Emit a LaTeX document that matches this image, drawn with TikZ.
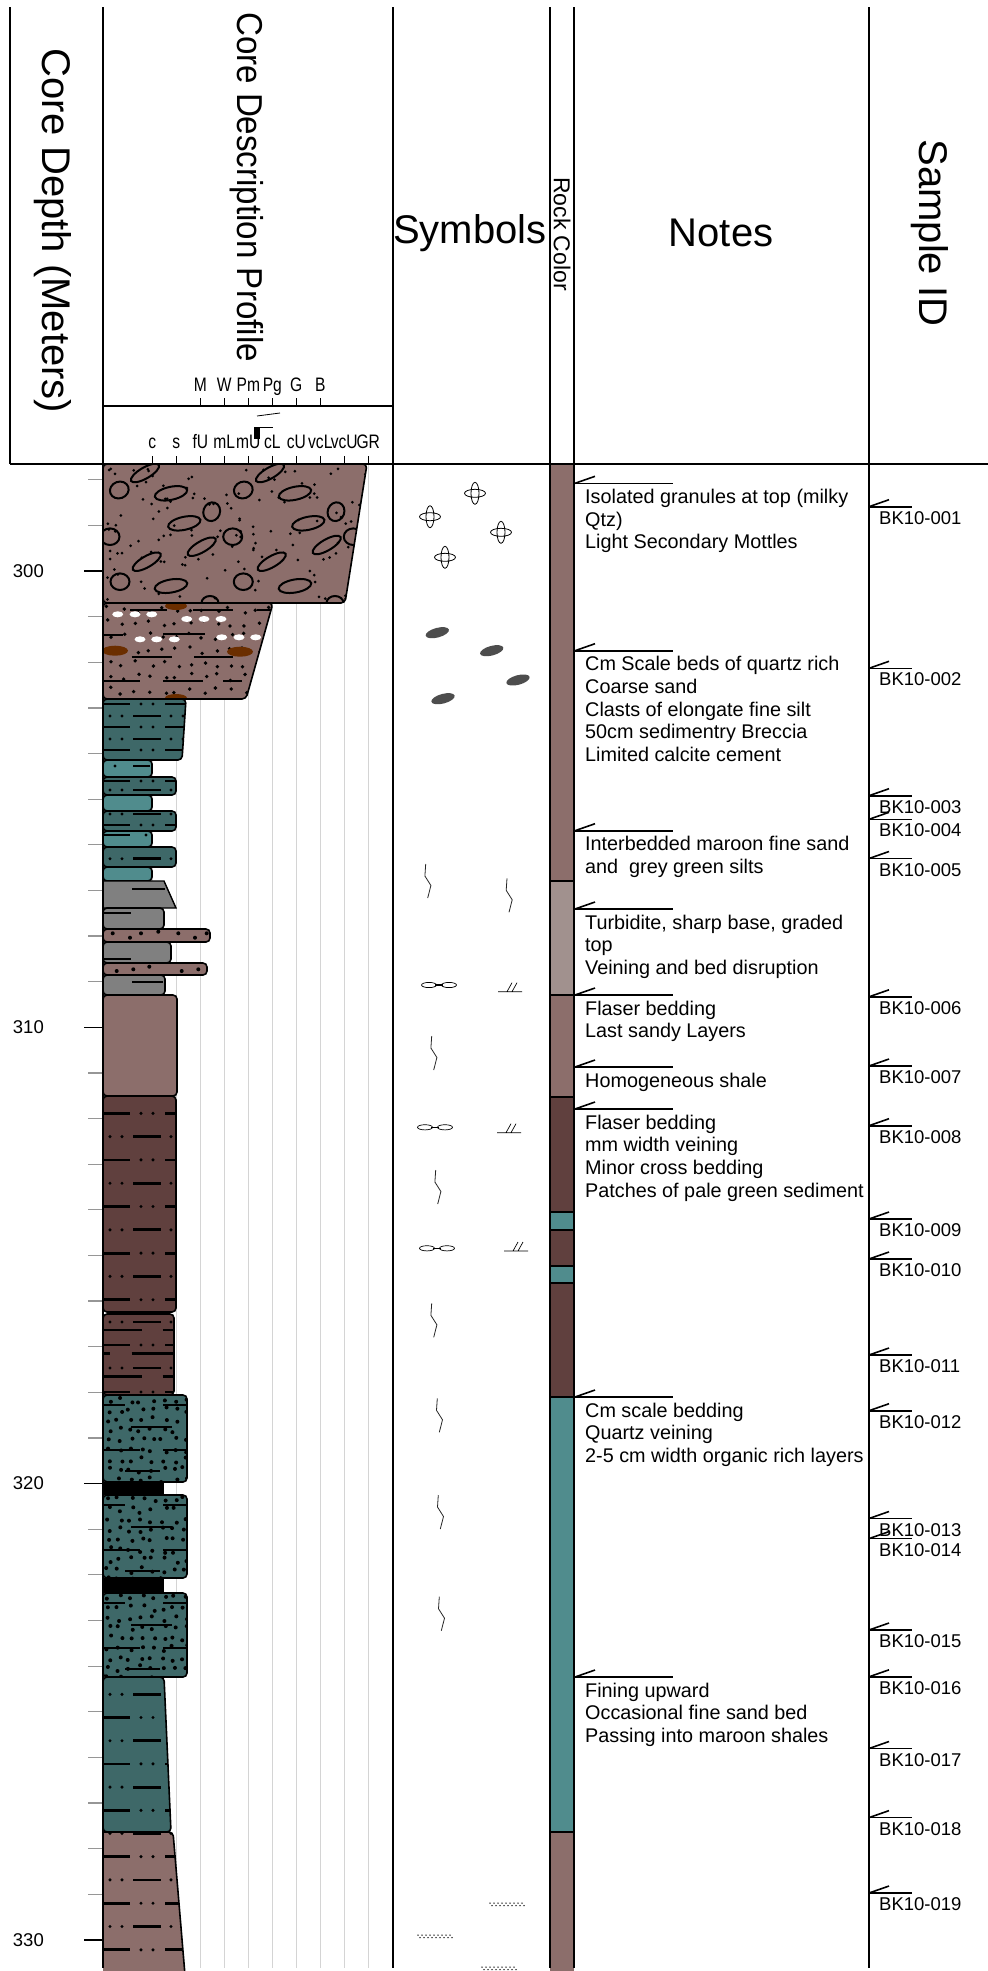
\documentclass[tikz,border=0pt]{standalone}
\usepackage{fontspec}
\setmainfont{Liberation Sans}
\definecolor{rosebrown}{RGB}{140,110,107}
\definecolor{darkmaroon}{RGB}{96,64,62}
\definecolor{darkteal}{RGB}{62,104,104}
\definecolor{paleteal}{RGB}{80,140,141}
\definecolor{turbgrey}{RGB}{161,145,142}
\definecolor{bedgrey}{RGB}{128,128,128}
\definecolor{mudbrown}{RGB}{107,46,0}
\definecolor{gridgrey}{RGB}{212,212,212}
\definecolor{clastgrey}{RGB}{77,77,77}
\definecolor{tickgrey}{RGB}{150,150,150}

\tikzset{
  frame/.style={line width=1.8pt, black},
  thinframe/.style={line width=1.2pt, black},
  gridline/.style={line width=1.2pt, gridgrey},
  bedline/.style={line width=1.6pt, black, rounded corners=4pt},
  siltdash/.style={line width=2.8pt, black},
  headfont/.style={font=\fontsize{40}{44}\selectfont},
  notefont/.style={font=\fontsize{19.8}{22.7}\selectfont, inner sep=0pt},
  idfont/.style={font=\fontsize{18.5}{22}\selectfont, inner sep=0pt},
  scalefont/.style={font=\fontsize{19.5}{22}\selectfont, inner sep=0pt},
  marker/.style={line width=1.6pt, black},
  symline/.style={line width=0.8pt, black!85},
}

% one row of the silt ornament: #1 = y, #2 = 0 dash first, 1 dots first
\newcommand\siltrow[2]{%
  \foreach \k in {0,...,5}{%
    \pgfmathsetmacro\xa{104+61*\k}%
    \ifnum#2=0
      \draw[siltdash] (\xa,#1) -- ++(26,0);
      \fill (\xa+37,#1) circle (1.7);
      \fill (\xa+49,#1) circle (1.7);
    \else
      \fill (\xa+6,#1) circle (1.7);
      \fill (\xa+18,#1) circle (1.7);
      \draw[siltdash] (\xa+29,#1) -- ++(28,0);
    \fi
  }}

% outline of a bed: top, bottom, right edge at top, right edge at bottom
\newcommand\bedpath[4]{(103,#1) -- (#3,#1) -- (#4,#2) -- (103,#2) -- cycle}

% a bed with fill #5 and ornament #6
\newcommand\drawbed[6]{%
  \begin{scope}
    \clip[rounded corners=4pt] \bedpath{#1}{#2}{#3}{#4};
    \fill[#5] (100,#1) rectangle (400,#2);
    #6
  \end{scope}
  \draw[bedline] \bedpath{#1}{#2}{#3}{#4};
}

% sandstone ornament between #1 and #2
\newcommand\sandorn[2]{%
  \foreach \i in {0,...,7}{\foreach \j in {0,...,8}{%
    \fill ({105+11*\i+7*rnd},{#1+2+10*\j+6*rnd}) circle (2);}}
  \draw[line width=1.9pt] (103,#1+10) -- (125,#1+10) (163,#1+10) -- (190,#1+10);
  \draw[line width=1.9pt] (131,#1+32) -- (172,#1+32);
  \draw[line width=1.9pt] (103,#1+55) -- (140,#1+55) (163,#1+55) -- (190,#1+55);
  \draw[line width=1.9pt] (125,#1+76) -- (160,#1+76);
}

% vein symbol
\newcommand\vein[2]{\draw[symline] (#1,#2) -- ++(-0.8,12) -- ++(6,9.5) -- ++(-3.2,12.5);}
% flaser symbol
\newcommand\flaser[2]{\draw[line width=0.7pt] (#1-10,#2) ellipse [x radius=7.5, y radius=2.6] (#1+10,#2) ellipse [x radius=7.5, y radius=2.6];
  \draw[line width=1.2pt] (#1-4,#2) -- (#1+4,#2);}
% cross bedding symbol
\newcommand\xbed[2]{\draw[line width=0.7pt] (#1,#2) -- ++(24,0) (#1+9,#2) -- ++(5,-9) (#1+14,#2) -- ++(5,-9);}
% band of fine dots
\newcommand\dotband[2]{\foreach \k in {0,...,8}{\fill (#1+4*\k,#2) circle (0.75); \fill (#1+2+4*\k,#2+2.6) circle (0.75);}}

% a note with its marker
\newcommand\logentry[3]{%
  \draw[marker] (574,#2) -- (673,#2);
  \draw[marker] (575,#2) -- (595,#2-7);
  \foreach \t [count=\i from 0] in {#3}{%
    \node[notefont, anchor=base west] (#1-\i) at (585,{#2+20+22.7*\i}) {\t};}}

% a sample with its marker
\newcommand\sampleid[2]{%
  \draw[marker] (869,#1) -- (912,#1);
  \draw[marker] (869,#1) -- (889,#1-7);
  \node[idfont, anchor=base west] (s#2) at (879,#1+17.5) {BK10-#2};}

\begin{document}
\begin{tikzpicture}[x=1pt,y=-1pt]
\useasboundingbox (0,0) rectangle (988,1971);
\fill[white] (0,0) rectangle (988,1971);

% grain-size grid
\foreach \gi in {0,...,9}{\pgfmathsetmacro\gx{152.3+24*\gi}
  \draw[gridline] (\gx,464) -- (\gx,1968);
  \draw[line width=0.9pt] (\gx,456) -- (\gx,464);}
\foreach \gi in {2,...,7}{\pgfmathsetmacro\gx{152.3+24*\gi}
  \draw[line width=0.9pt] (\gx,398) -- (\gx,406);}

% depth ticks
\foreach \d in {298,...,330}{\pgfmathsetmacro\yy{571+45.63*(\d-300)}
  \draw[tickgrey, line width=1.2pt] (88,\yy) -- (103,\yy);}
\foreach \d in {300,310,320,330}{\pgfmathsetmacro\yy{571+45.63*(\d-300)}
  \draw[line width=1.2pt] (84,\yy) -- (103,\yy);
  \node[font=\fontsize{18.5}{20}\selectfont, anchor=east, inner sep=0pt] (d\d) at (44,\yy) {\d};}

% ---- beds of the profile ----
% breccia
\drawbed{464}{603}{367}{345}{rosebrown}{%
  \pgfmathsetseed{11}
  \foreach \n in {1,...,130}{\fill ({106+262*rnd},{468+132*rnd}) circle (1.5);}
  \foreach \cx/\cy/\rx/\ry/\ang in {145/473/16/5.5/30, 270/473/16/5.5/30, 201.7/546.7/16/5.5/30,
      326.7/545/16/5.5/30, 146.7/561.7/16/5.5/30, 271.7/561.7/16/5.5/30,
      171/493.3/16.5/6.5/12, 295/493.3/16.5/6.5/12, 184.3/523.3/16.5/6.5/12, 308.3/523.3/16.5/6.5/12,
      171/586/16.5/6.5/10, 295/586/16.5/6.5/10,
      119.3/490/9.5/8.3/20, 243.3/490/9.5/8.3/20, 211.7/511.7/8.3/9.5/-20, 336/511.7/8.3/9.5/-20,
      110/536.7/9.5/8.3/0, 232.7/536.7/9.5/8.3/0, 353.3/536.7/9.5/8.3/0, 120/581.7/9.5/8.3/0,
      243.3/581.7/9.5/8.3/0, 210/603/8.5/7/0, 335/603/8.5/7/0}{%
    \draw[line width=2pt, shift={(\cx,\cy)}, rotate=\ang] (0,0) ellipse [x radius=\rx, y radius=\ry];}
}
% coarse quartz sand
\drawbed{603}{699}{273}{246}{rosebrown}{%
  \pgfmathsetseed{5}
  \foreach \i in {0,...,12}{\foreach \j in {0,...,6}{\fill ({106+13.5*\i+7*rnd},{606+13.5*\j+7*rnd}) circle (1.9);}}
  \foreach \cx/\cy in {117.7/614.3, 135/614.3, 151.7/614.3, 186.7/619, 204/619, 221/619,
      140/639.3, 156.7/639.3, 174.3/639.3, 221.7/637.3, 239/637.3, 255.7/637.3}{%
    \fill[white] (\cx,\cy) ellipse [x radius=5.5, y radius=3];}
  \fill[mudbrown] (176,606) ellipse [x radius=11, y radius=4];
  \fill[mudbrown] (115,650.7) ellipse [x radius=13, y radius=5];
  \fill[mudbrown] (240,651.7) ellipse [x radius=13, y radius=5];
  \fill[mudbrown] (176,698) ellipse [x radius=11, y radius=4];
  \draw[line width=2.2pt] (130,610) -- (166.7,610) (193.3,610) -- (233.3,610) (256.7,610) -- (271.7,610)
    (104,635) -- (123.3,635) (163.3,634.3) -- (205,634.3)
    (131.7,657.3) -- (171.7,657.3) (194,657.3) -- (233.3,657.3)
    (104,680.7) -- (140,680.7) (163,680.7) -- (203,680.7) (223,680.7) -- (241.7,680.7);
}
% grey-green silts interbedded
\drawbed{699}{760}{186}{182}{darkteal}{\siltrow{704}{0}\siltrow{716}{1}\siltrow{727}{0}\siltrow{739}{1}\siltrow{750}{0}}
\drawbed{760}{777}{152}{152}{paleteal}{\draw[siltdash] (133,766) -- (150,766); \fill (115,766) circle (1.7);}
\drawbed{777}{795}{176}{176}{darkteal}{\siltrow{781}{0}\siltrow{790}{1}}
\drawbed{795}{811}{152}{152}{paleteal}{}
\drawbed{811}{831}{176}{176}{darkteal}{\siltrow{814}{1}\siltrow{825}{0}}
\drawbed{831}{847}{152}{152}{paleteal}{\draw[siltdash] (104,835) -- (130,835); \fill (146,835) circle (1.7);}
\drawbed{847}{867}{176}{176}{darkteal}{\siltrow{858.7}{1}}
\drawbed{867}{881}{152}{152}{paleteal}{}
% turbidite
\fill[bedgrey] (103,881) -- (164,881) -- (176,908) -- (103,908) -- cycle;
\draw[line width=1.4pt] (103,881) -- (164,881) -- (176,908) -- (103,908);
\draw[line width=2pt] (132,889) -- (165,889);
\drawbed{908}{929}{164}{164}{bedgrey}{\draw[line width=2pt] (104,912.7) -- (131,912.7);}
\drawbed{929}{942}{210}{210}{rosebrown}{%
  \foreach \cx/\cy in {112.7/933.3, 130/937.7, 141/933.3, 158.3/931.7, 178.3/933.3, 195/937.7, 206.7/933.3}{\fill (\cx,\cy) circle (2);}}
\drawbed{942}{963}{171}{171}{bedgrey}{\draw[line width=2pt] (104,959.3) -- (131,959.3);}
\drawbed{963}{975}{207}{207}{rosebrown}{%
  \foreach \cx/\cy in {116.7/971, 133.3/969.3, 149.3/966.7, 181.7/971, 198.3/969.3}{\fill (\cx,\cy) circle (2);}}
\drawbed{975}{995}{165}{165}{bedgrey}{\draw[line width=2pt] (132,982.3) -- (163,982.3);}
% homogeneous shale
\drawbed{995}{1096}{177}{177}{rosebrown}{}
% maroon silts
\drawbed{1096}{1312}{176}{176}{darkmaroon}{%
  \foreach \r in {0,...,8}{\pgfmathsetmacro\ry{1113.3+23.3*\r}\pgfmathtruncatemacro\rt{mod(\r,2)}\siltrow{\ry}{\rt}}}
\drawbed{1314}{1395}{174}{174}{darkmaroon}{%
  \siltrow{1322}{1}\siltrow{1345}{0}\siltrow{1368}{1}\siltrow{1392}{0}
  \draw[siltdash] (104,1330) -- (141.7,1330) (162.7,1330) -- (172.7,1330);
  \draw[siltdash] (104,1353.3) -- (110,1353.3) (131.7,1353.3) -- (172.7,1353.3);
  \draw[siltdash] (104,1376.7) -- (141.7,1376.7) (162.7,1376.7) -- (172.7,1376.7);}
% sandstones with organic layers
\pgfmathsetseed{21}
\drawbed{1395}{1482}{187}{187}{darkteal}{\sandorn{1395}{1482}}
\fill (103,1482) rectangle (164,1495);
\drawbed{1495}{1578}{187}{187}{darkteal}{\sandorn{1495}{1578}}
\fill (103,1578) rectangle (164,1593);
\drawbed{1593}{1677}{187}{187}{darkteal}{\sandorn{1593}{1677}}
% fining upward silts
\drawbed{1677}{1832}{164}{171}{darkteal}{%
  \foreach \r in {0,...,5}{\pgfmathsetmacro\ry{1694.3+23.2*\r}\pgfmathtruncatemacro\rt{1-mod(\r,2)}\siltrow{\ry}{\rt}}}
\begin{scope}
  \clip[rounded corners=4pt] (103,1832) -- (173,1832) -- (185,1975) -- (103,1975) -- cycle;
  \fill[rosebrown] (100,1832) rectangle (400,1975);
  \foreach \r in {0,...,5}{\pgfmathsetmacro\ry{1833.3+23.3*\r}\pgfmathtruncatemacro\rt{1-mod(\r,2)}\siltrow{\ry}{\rt}}
\end{scope}
\draw[bedline] (103,1832) -- (173,1832) -- (185,1975);

% ---- symbols ----
\foreach \cx/\cy in {475/493.3, 430/516.7, 501/532.3, 445/557.3}{%
  \draw[line width=0.8pt] (\cx,\cy) ellipse [x radius=4, y radius=11] (\cx,\cy) ellipse [x radius=10.5, y radius=4];}
\foreach \cx/\cy in {437.3/632.7, 491.7/650.7, 518/680, 443/698.7}{%
  \fill[clastgrey, rotate around={15:(\cx,\cy)}] (\cx,\cy) ellipse [x radius=12, y radius=4.8];}
\vein{425.7}{864} \vein{507}{878.3} \vein{431.7}{1036} \vein{435.7}{1170}
\vein{431.7}{1303.3} \vein{437.3}{1398.3} \vein{438.3}{1495} \vein{439.3}{1596.7}
\flaser{439}{985} \flaser{435}{1127.3} \flaser{437}{1248.3}
\xbed{498}{991.7} \xbed{497}{1132.7} \xbed{504}{1251}
\dotband{490}{1903} \dotband{418}{1935} \dotband{482}{1967}

% ---- rock colour column ----
\foreach \ya/\yb/\cc in {464/881/rosebrown, 881/995/turbgrey, 995/1097/rosebrown, 1097/1212/darkmaroon,
    1212/1230/paleteal, 1230/1266/darkmaroon, 1266/1283/paleteal, 1283/1397/darkmaroon,
    1397/1832/paleteal, 1832/1971/rosebrown}{\fill[\cc] (550,\ya) rectangle (574,\yb);}
\foreach \yy in {881,995,1097,1212,1230,1266,1283,1397,1832}{\draw[line width=2.4pt] (550,\yy) -- (574,\yy);}

% ---- frame ----
\draw[frame] (10,7) -- (10,464);
\draw[thinframe] (103,7) -- (103,1968);
\draw[frame] (393,7) -- (393,1968);
\draw[line width=2.4pt] (550,7) -- (550,1968);
\draw[frame] (574,7) -- (574,1968);
\draw[thinframe] (869,7) -- (869,1968);
\draw[frame] (10,464) -- (988,464);
\draw[thinframe] (103,406) -- (393,406);

% ---- headings ----
\node[rotate=-90, headfont] (hdepth) at (53,231) {Core Depth (Meters)};
\node[rotate=-90, font=\fontsize{36}{40}\selectfont] (hprofile) at (247,187) {\scalebox{0.92}[1]{Core Description Profile}};
\node[headfont] (hsym) at (470,233) {Symbols};
\node[rotate=-90, inner sep=0pt, font=\fontsize{23}{26}\selectfont] (hrock) at (562,234) {Rock Color};
\node[headfont] (hnotes) at (721,233) {Notes};
\node[rotate=-90, headfont] (hsample) at (930,233) {Sample ID};

% grain-size scales
\foreach \lab/\gi in {M/2, W/3, Pm/4, Pg/5, G/6, B/7}{\pgfmathsetmacro\gx{152.3+24*\gi}
  \node[scalefont, anchor=base] (up\gi) at (\gx,391.7) {\scalebox{0.8}[1]{\lab}};}
\foreach \lab/\gi in {c/0, s/1, fU/2, mL/3, mU/4, cL/5, cU/6, vcL/7, vcU/8, GR/9}{\pgfmathsetmacro\gx{152.3+24*\gi}
  \node[scalefont, anchor=base] (lo\gi) at (\gx,448.5) {\scalebox{0.8}[1]{\lab}};}
\draw[line width=0.8pt] (257,416) -- (280,413);
\fill (254,427) rectangle (260,439);
\draw[line width=1pt] (260,427.5) -- (273,427.5);

% ---- notes ----
\logentry{n1}{483.3}{{Isolated granules at top (milky},{Qtz)},{Light Secondary Mottles}}
\logentry{n2}{650.7}{{Cm Scale beds of quartz rich},{Coarse sand},{Clasts of elongate fine silt},{50cm sedimentry Breccia},{Limited calcite cement}}
\logentry{n3}{830.7}{{Interbedded maroon fine sand},{and~ grey green silts}}
\logentry{n4}{909}{{Turbidite, sharp base, graded},{top},{Veining and bed disruption}}
\logentry{n5}{995}{{Flaser bedding},{Last sandy Layers}}
\logentry{n6}{1067}{{Homogeneous shale}}
\logentry{n7}{1109}{{Flaser bedding},{mm width veining},{Minor cross bedding},{Patches of pale green sediment}}
\logentry{n8}{1397}{{Cm scale bedding},{Quartz veining},{2-5 cm width organic rich layers}}
\logentry{n9}{1677}{{Fining upward},{Occasional fine sand bed},{Passing into maroon shales}}

% ---- samples ----
\sampleid{506.7}{001}
\sampleid{668.3}{002}
\sampleid{795.7}{003}
\sampleid{819.3}{004}
\sampleid{858.5}{005}
\sampleid{996.8}{006}
\sampleid{1066}{007}
\sampleid{1125.7}{008}
\sampleid{1219}{009}
\sampleid{1259}{010}
\sampleid{1355}{011}
\sampleid{1410.7}{012}
\sampleid{1518.5}{013}
\sampleid{1538.6}{014}
\sampleid{1630}{015}
\sampleid{1676.8}{016}
\sampleid{1748.5}{017}
\sampleid{1817.6}{018}
\sampleid{1893}{019}
\end{tikzpicture}
\end{document}
